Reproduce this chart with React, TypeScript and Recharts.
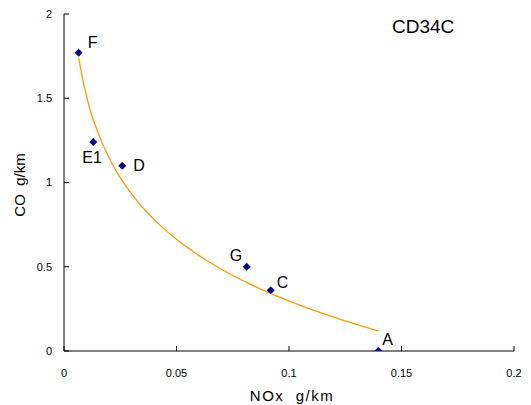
import React from 'react';
import { ScatterChart, Scatter, XAxis, YAxis } from 'recharts';

const pointNames = ['F', 'E1', 'D', 'G', 'C', 'A'];
const noxValues = [0.0065, 0.013, 0.0259, 0.0812, 0.0919, 0.1397];
const coValues = [1.77, 1.24, 1.1, 0.5, 0.36, 0];

const trendNox = [0.0065, 0.009, 0.0116, 0.015, 0.0195, 0.0241, 0.03, 0.0355, 0.0419, 0.05, 0.0575, 0.0664, 0.075, 0.0827, 0.09, 0.096, 0.105, 0.113, 0.1212, 0.13, 0.1397];
const trendCo = [1.74, 1.57, 1.43, 1.3, 1.16, 1.048, 0.933, 0.844, 0.756, 0.663, 0.589, 0.513, 0.448, 0.397, 0.352, 0.318, 0.271, 0.232, 0.195, 0.158, 0.119];

const xTicks = [0, 0.05, 0.1, 0.15, 0.2];
const yTicks = [0, 0.5, 1, 1.5, 2];

const labelOffsets: Record<string, [number, number]> = {
  F: [9, -5],
  E1: [-11, 21],
  D: [11, 5],
  G: [-17, -6],
  C: [6, -2],
  A: [4, -6],
};

const points = pointNames.map((name, i) => ({ name, x: noxValues[i], y: coValues[i] }));
const trend = trendNox.map((x, i) => ({ x, y: trendCo[i] }));

const FONT = '"Liberation Sans", Arial, sans-serif';

const PointShape = (props: any) => {
  const { cx, cy, payload } = props;
  if (cx == null || cy == null) return <g />;
  const r = 4;
  const off = labelOffsets[payload.name] || [6, -6];
  return (
    <g>
      <polygon
        points={`${cx},${cy - r} ${cx + r},${cy} ${cx},${cy + r} ${cx - r},${cy}`}
        fill="#000080"
      />
      <text x={cx + off[0]} y={cy + off[1]} fontSize={16} fontFamily={FONT} fill="#000">
        {payload.name}
      </text>
    </g>
  );
};

export default function App() {
  return (
    <div style={{ position: 'absolute', left: 0, top: 0, width: 531, height: 405, background: '#fff' }}>
      <ScatterChart width={531} height={405} margin={{ top: 14, right: 17, bottom: 14, left: 0 }}>
        <XAxis
          type="number"
          dataKey="x"
          domain={[0, 0.2]}
          ticks={xTicks}
          height={40}
          tickSize={-5}
          tickMargin={23}
          axisLine={{ stroke: '#000' }}
          tickLine={{ stroke: '#000' }}
          tick={{ fontSize: 11, fill: '#000', fontFamily: FONT }}
          allowDataOverflow
        />
        <YAxis
          type="number"
          dataKey="y"
          domain={[0, 2]}
          ticks={yTicks}
          width={64}
          tickSize={-5}
          tickMargin={17}
          axisLine={{ stroke: '#000' }}
          tickLine={{ stroke: '#000' }}
          tick={{ fontSize: 11, fill: '#000', fontFamily: FONT }}
          allowDataOverflow
        />
        <Scatter
          data={trend}
          line={{ stroke: '#FF9900', strokeWidth: 1.3 }}
          lineJointType="monotoneX"
          shape={() => <g />}
          isAnimationActive={false}
        />
        <Scatter data={points} shape={PointShape} isAnimationActive={false} />
      </ScatterChart>
      <svg width={531} height={405} style={{ position: 'absolute', left: 0, top: 0, pointerEvents: 'none' }}>
        <text x={392} y={33} fontSize={19} fontFamily={FONT} fill="#000">CD34C</text>
        <text x={292} y={401} fontSize={15} letterSpacing={1.5} textAnchor="middle" fontFamily={FONT} fill="#000">
          {'NOx\u00a0\u00a0g/km'}
        </text>
        <text
          x={25}
          y={185}
          fontSize={15}
          textAnchor="middle"
          fontFamily={FONT}
          fill="#000"
          transform="rotate(-90 25 185)"
        >
          {'CO\u00a0\u00a0g/km'}
        </text>
      </svg>
    </div>
  );
}
